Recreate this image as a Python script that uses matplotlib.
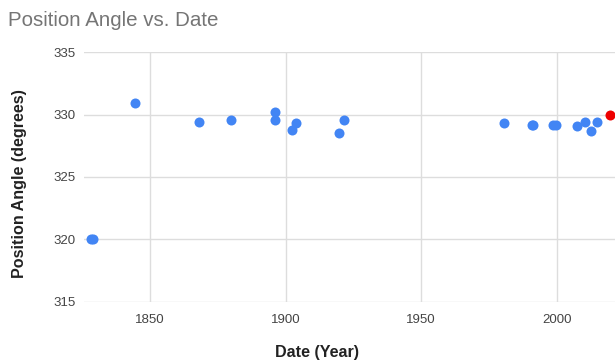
import matplotlib
matplotlib.use('Agg')
import matplotlib.pyplot as plt

years = [1828.0, 1829.0, 1844.3, 1868.0, 1879.9, 1895.9, 1895.9, 1902.5, 1903.9,
         1919.6, 1921.7, 1980.5, 1991.0, 1991.4, 1998.7, 1999.7, 2007.3, 2010.4,
         2012.8, 2014.8]
angles = [320.0, 320.0, 330.9, 329.4, 329.6, 330.2, 329.6, 328.8, 329.3,
          328.5, 329.6, 329.3, 329.2, 329.2, 329.2, 329.2, 329.1, 329.4,
          328.7, 329.4]
latest_year = [2019.6]
latest_angle = [330.0]

x_ticks = [1850, 1900, 1950, 2000]
y_ticks = [315, 320, 325, 330, 335]

plt.rcParams['font.family'] = ['Liberation Sans', 'DejaVu Sans']

fig = plt.figure(figsize=(6.15, 3.64), dpi=100)
ax = fig.add_axes([84 / 615, 1 - 301.6 / 364, 1 - 84 / 615, (301.6 - 52.4) / 364])

ax.scatter(years, angles, s=52, color='#4285f4', zorder=3, linewidths=0)
ax.scatter(latest_year, latest_angle, s=52, color='#ee0000', zorder=4,
           linewidths=0, clip_on=False)

ax.set_xlim(1825.6, 2021.5)
ax.set_ylim(315, 335)
ax.set_xticks(x_ticks)
ax.set_yticks(y_ticks)
ax.grid(True, color='#dddddd', linewidth=1)
ax.set_axisbelow(True)
for s in ax.spines.values():
    s.set_visible(False)
ax.tick_params(length=0, labelsize=9.5, colors='#444444')
ax.tick_params(axis='y', pad=6)
ax.tick_params(axis='x', pad=9)

fig.text(8 / 615, 1 - 20 / 364, 'Position Angle vs. Date', fontsize=14.8,
         color='#757575', ha='left', va='center')
fig.text(20 / 615, 1 - 184 / 364, 'Position Angle (degrees)', rotation=90,
         fontsize=11.6, fontweight='bold', color='#222222', ha='center', va='center')
fig.text(317 / 615, 1 - 353 / 364, 'Date (Year)', fontsize=11.6,
         fontweight='bold', color='#222222', ha='center', va='center')

fig.savefig('out.png', dpi=100)
